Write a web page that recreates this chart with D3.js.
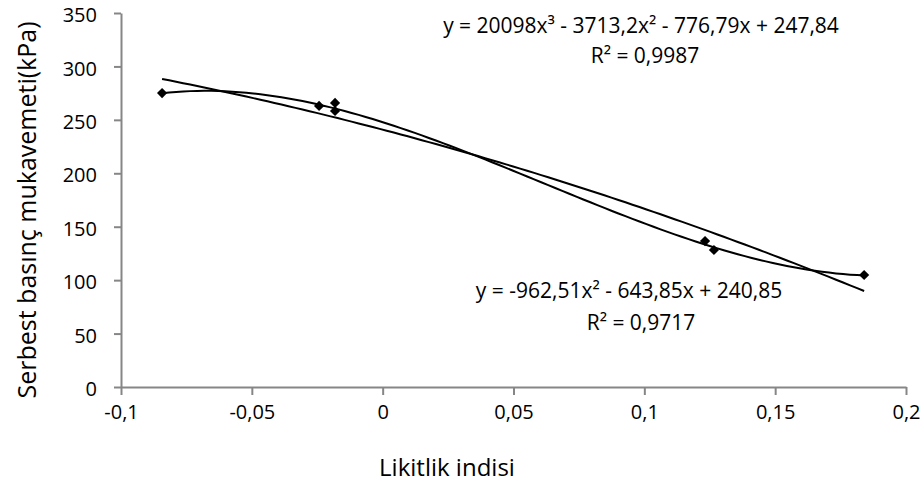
<!DOCTYPE html>
<html>
<head>
<meta charset="utf-8">
<script src="https://cdn.jsdelivr.net/npm/d3@7"></script>
<style>
  body { margin: 0; background: #fff; }
  svg text { font-family: "Open Sans", Lato, sans-serif; fill: #000; }
</style>
</head>
<body>
<div id="chart"></div>
<script>
// Measured points (Likitlik indisi vs. Serbest basınç mukavemeti)
const liquidityIndex = [-0.0843, -0.0243, -0.0182, -0.0182, 0.1232, 0.1266, 0.184];
const strength = [275.1, 263, 265.8, 258.3, 136.6, 128.2, 104.8];

// Trendline coefficients as printed on the chart (highest power first)
const cubicCoef = [20098, -3713.2, -776.79, 247.84];
const quadCoef = [-962.51, -643.85, 240.85];

const xTicks = [-0.1, -0.05, 0, 0.05, 0.1, 0.15, 0.2];
const yTicks = [0, 50, 100, 150, 200, 250, 300, 350];

const cubicLabel = ['y = 20098x³ - 3713,2x² - 776,79x + 247,84', 'R² = 0,9987'];
const quadLabel = ['y = -962,51x² - 643,85x + 240,85', 'R² = 0,9717'];

const width = 922, height = 489;
const fmt = v => String(v).replace('.', ',');

const svg = d3.select('#chart').append('svg')
    .attr('width', width)
    .attr('height', height);

const x = d3.scaleLinear().domain([-0.1, 0.2]).range([121, 906]);
const y = d3.scaleLinear().domain([0, 350]).range([387, 13]);

// Axes
const xAxis = svg.append('g')
    .attr('transform', `translate(0,${y(0)})`)
    .call(d3.axisBottom(x).tickValues(xTicks).tickFormat(fmt).tickSizeInner(8).tickSizeOuter(0).tickPadding(10));
const yAxis = svg.append('g')
    .attr('transform', `translate(${x(-0.1)},0)`)
    .call(d3.axisLeft(y).tickValues(yTicks).tickFormat(fmt).tickSizeInner(7).tickSizeOuter(0).tickPadding(17));

[xAxis, yAxis].forEach(g => {
    g.select('.domain').attr('stroke', '#868686').attr('stroke-width', 2);
    g.selectAll('.tick line').attr('stroke', '#868686').attr('stroke-width', 2);
    g.selectAll('.tick text').style('font-size', '20px').attr('fill', '#000');
});
yAxis.selectAll('.tick text').attr('dy', '0.43em');

// Axis titles
svg.append('text')
    .attr('x', 447)
    .attr('y', 476)
    .attr('text-anchor', 'middle')
    .style('font-size', '24px')
    .text('Likitlik indisi');

svg.append('text')
    .attr('transform', 'translate(36,210) rotate(-90)')
    .attr('text-anchor', 'middle')
    .style('font-size', '25px')
    .text('Serbest basınç mukavemeti(kPa)');

// Trendlines
const poly = coef => v => coef.reduce((acc, c) => acc * v + c, 0);
const xMin = d3.min(liquidityIndex), xMax = d3.max(liquidityIndex);
const sampleX = d3.range(0, 101).map(i => xMin + (xMax - xMin) * i / 100);

const line = d3.line().x(d => x(d[0])).y(d => y(d[1]));

[cubicCoef, quadCoef].forEach(coef => {
    const f = poly(coef);
    svg.append('path')
        .datum(sampleX.map(v => [v, f(v)]))
        .attr('d', line)
        .attr('fill', 'none')
        .attr('stroke', '#000')
        .attr('stroke-width', 2);
});

// Markers
svg.append('g')
    .selectAll('path')
    .data(liquidityIndex.map((v, i) => [v, strength[i]]))
    .join('path')
    .attr('d', d3.symbol(d3.symbolSquare, 52))
    .attr('transform', d => `translate(${x(d[0])},${y(d[1])}) rotate(45)`)
    .attr('fill', '#000');

// Equation labels
function label(lines, eqX, eqY, rX, rY) {
    svg.append('text')
        .attr('x', eqX).attr('y', eqY)
        .attr('text-anchor', 'middle')
        .style('font-size', '21px')
        .text(lines[0]);
    svg.append('text')
        .attr('x', rX).attr('y', rY)
        .attr('text-anchor', 'middle')
        .style('font-size', '21px')
        .text(lines[1]);
}
label(cubicLabel, 641, 33, 645, 63);
label(quadLabel, 629, 298, 641, 330);
</script>
</body>
</html>
